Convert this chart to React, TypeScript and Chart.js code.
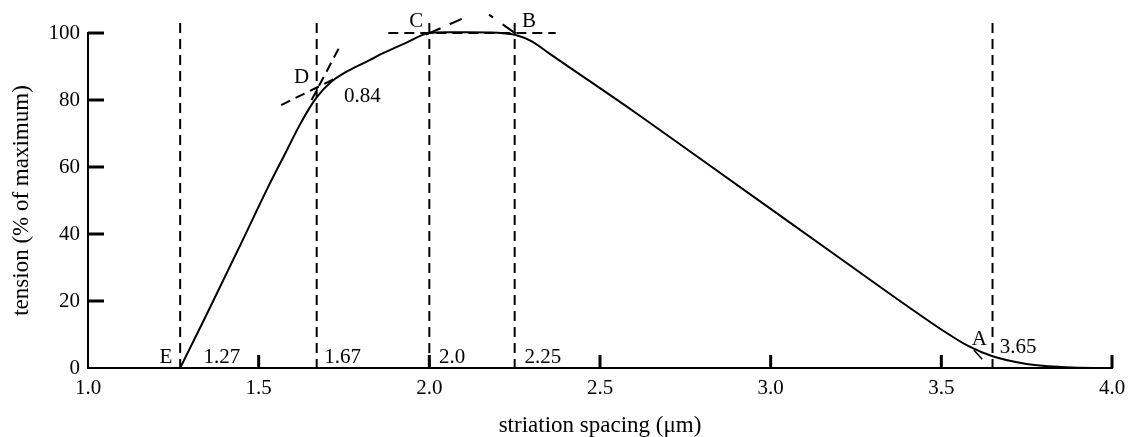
import { useEffect, useRef } from "react";
import { Chart, registerables } from "chart.js";

Chart.register(...registerables);

// Main tension curve (striation spacing in µm, tension in % of maximum)
const curveX = [1.27, 1.35, 1.45, 1.53, 1.58, 1.62, 1.65, 1.67, 1.71, 1.76, 1.825, 1.863, 1.93, 2.0, 2.05, 2.1, 2.2, 2.253, 2.3, 2.35, 2.4, 2.6, 2.8, 3.0, 3.2, 3.4, 3.5, 3.58, 3.65, 3.75, 3.85, 3.95, 4.0];
const curveY = [0, 16.5, 37.5, 54.5, 64.5, 72.5, 77.8, 80.8, 85.2, 88.6, 91.9, 93.9, 97, 100, 100.2, 100.2, 100.1, 99.4, 97.5, 94, 90.5, 76.5, 62, 47.5, 33, 18.5, 11.5, 6.5, 3.5, 1.2, 0.3, 0, 0];

// Vertical dashed marker lines
const markerX = [1.27, 1.67, 2.0, 2.25, 3.65];
const markerTop = 103;

// Tangent / reference dashed segments
const dShallowX = [1.566, 1.722];
const dShallowY = [78.5, 86.3];
const dSteepX = [1.655, 1.735];
const dSteepY = [80, 95.5];
const cTangentX = [1.99, 2.095];
const cTangentY = [99.5, 104.2];
const plateauX = [1.88, 2.37];
const plateauY = [100, 100];
const bTangentX = [2.253, 2.175];
const bTangentY = [99.8, 105.5];
const arrowX = [3.595, 3.62];
const arrowY = [5.4, 2.6];

// Axis ticks
const xTicks = [1.0, 1.5, 2.0, 2.5, 3.0, 3.5, 4.0];
const yTicks = [0, 20, 40, 60, 80, 100];

// Text annotations (anchored in data coordinates)
const noteText = ["E", "1.27", "1.67", "2.0", "2.25", "A", "3.65", "D", "0.84", "C", "B"];
const noteX = [1.228, 1.392, 1.746, 2.067, 2.333, 3.611, 3.725, 1.626, 1.804, 1.962, 2.292];
const noteY = [1.5, 1.5, 1.5, 1.5, 1.5, 6.9, 4.5, 85.1, 79.4, 101.8, 101.8];

const FONT = "'Liberation Serif', 'Times New Roman', serif";

const pts = (xs: number[], ys: number[]) => xs.map((x, i) => ({ x, y: ys[i] }));

export default function App() {
  const ref = useRef<HTMLCanvasElement | null>(null);

  useEffect(() => {
    if (!ref.current) return;
    const dashed = (data: { x: number; y: number }[], dash: number[] = [10, 6]) => ({
      data,
      borderColor: "#000",
      borderWidth: 2,
      borderDash: dash,
      pointRadius: 0,
      fill: false,
      clip: false as any,
    });

    const datasets: any[] = [
      {
        data: pts(curveX, curveY),
        borderColor: "#000",
        borderWidth: 2,
        pointRadius: 0,
        fill: false,
        cubicInterpolationMode: "monotone",
        clip: false,
      },
      ...markerX.map((mx) => dashed([{ x: mx, y: markerTop }, { x: mx, y: 0 }])),
      dashed(pts(dShallowX, dShallowY)),
      dashed(pts(dSteepX, dSteepY)),
      dashed(pts(cTangentX, cTangentY), [16, 10]),
      dashed(pts(plateauX, plateauY)),
      dashed(pts(bTangentX, bTangentY), [16, 12]),
      {
        data: pts(arrowX, arrowY),
        borderColor: "#000",
        borderWidth: 1.5,
        pointRadius: 0,
        clip: false,
      },
    ];

    const overlay = {
      id: "overlay",
      afterDatasetsDraw(chart: any) {
        const { ctx } = chart;
        const xs = chart.scales.x;
        const ys = chart.scales.y;
        ctx.save();
        ctx.strokeStyle = "#000";
        ctx.lineWidth = 3;
        xTicks.slice(1).forEach((v) => {
          const px = xs.getPixelForValue(v);
          ctx.beginPath();
          ctx.moveTo(px, ys.bottom);
          ctx.lineTo(px, ys.bottom - 13);
          ctx.stroke();
        });
        yTicks.slice(1).forEach((v) => {
          const py = ys.getPixelForValue(v);
          ctx.beginPath();
          ctx.moveTo(xs.left, py);
          ctx.lineTo(xs.left + 16, py);
          ctx.stroke();
        });
        ctx.fillStyle = "#000";
        ctx.font = `21px ${FONT}`;
        ctx.textAlign = "center";
        ctx.textBaseline = "alphabetic";
        noteText.forEach((t, i) => {
          ctx.fillText(t, xs.getPixelForValue(noteX[i]), ys.getPixelForValue(noteY[i]));
        });
        ctx.restore();
      },
    };

    const chart = new Chart(ref.current, {
      type: "line",
      data: { datasets },
      plugins: [overlay],
      options: {
        animation: false,
        responsive: false,
        layout: { padding: { left: 0, right: 16, top: 33, bottom: 0 } },
        plugins: { legend: { display: false }, tooltip: { enabled: false } },
        scales: {
          x: {
            type: "linear",
            min: 1,
            max: 4,
            afterBuildTicks: (s: any) => {
              s.ticks = xTicks.map((v) => ({ value: v }));
            },
            afterFit: (s: any) => {
              s.height = 69;
              s.paddingLeft = 0;
              s.paddingRight = 0;
            },
            grid: { display: false, drawTicks: false },
            border: { display: true, color: "#000", width: 2 },
            ticks: {
              color: "#000",
              font: { family: FONT, size: 21 },
              padding: 8,
              maxRotation: 0,
              autoSkip: false,
              callback: (v: any) => Number(v).toFixed(1),
            },
            title: {
              display: true,
              text: "striation spacing (μm)",
              color: "#000",
              font: { family: FONT, size: 23, lineHeight: 1 },
              padding: { top: 0, bottom: 0 },
            },
          },
          y: {
            type: "linear",
            min: 0,
            max: 100,
            afterBuildTicks: (s: any) => {
              s.ticks = yTicks.map((v) => ({ value: v }));
            },
            afterFit: (s: any) => {
              s.width = 88;
              s.paddingTop = 0;
              s.paddingBottom = 0;
            },
            grid: { display: false, drawTicks: false },
            border: { display: true, color: "#000", width: 2 },
            ticks: {
              color: "#000",
              font: { family: FONT, size: 21 },
              padding: 8,
              callback: (v: any) => String(v),
            },
            title: {
              display: true,
              text: "tension (% of maximum)",
              color: "#000",
              font: { family: FONT, size: 23, lineHeight: 1 },
              padding: { top: 10, bottom: 0 },
            },
          },
        },
      } as any,
    });
    return () => chart.destroy();
  }, []);

  return (
    <div style={{ position: "absolute", left: 0, top: 0, width: 1128, height: 437, background: "#fff" }}>
      <canvas ref={ref} width={1128} height={437} style={{ display: "block" }} />
    </div>
  );
}
